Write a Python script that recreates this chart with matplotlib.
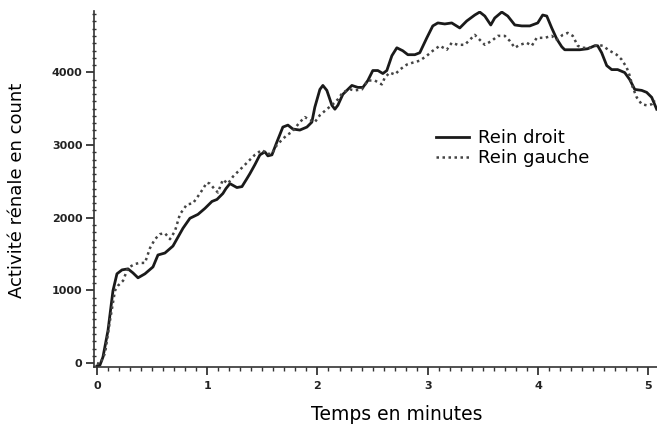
import matplotlib
matplotlib.use("Agg")
import matplotlib.pyplot as plt
from matplotlib.ticker import MultipleLocator

# Rein droit (solid)
t_droit = [0.0, 0.027, 0.054, 0.100, 0.145, 0.181, 0.227, 0.281, 0.326, 0.372,
           0.435, 0.508, 0.553, 0.616, 0.689, 0.780, 0.843, 0.916, 0.979, 1.043,
           1.088, 1.142, 1.170, 1.206, 1.269, 1.315, 1.360, 1.387, 1.432, 1.478,
           1.523, 1.550, 1.587, 1.632, 1.686, 1.732, 1.777, 1.840, 1.904, 1.949,
           1.976, 2.022, 2.049, 2.085, 2.131, 2.158, 2.185, 2.230, 2.312, 2.366,
           2.412, 2.457, 2.502, 2.548, 2.593, 2.629, 2.675, 2.720, 2.774, 2.820,
           2.883, 2.928, 2.992, 3.046, 3.092, 3.155, 3.218, 3.291, 3.354, 3.427,
           3.472, 3.518, 3.572, 3.608, 3.672, 3.726, 3.790, 3.853, 3.926, 3.998,
           4.043, 4.080, 4.125, 4.170, 4.216, 4.243, 4.316, 4.379, 4.451, 4.515,
           4.542, 4.578, 4.624, 4.669, 4.723, 4.787, 4.832, 4.878, 4.941, 4.986,
           5.032, 5.077]
droit = [-40, -27, 82, 450, 996, 1228, 1282, 1296, 1241, 1173,
         1228, 1323, 1487, 1514, 1610, 1855, 1992, 2046, 2128, 2224,
         2251, 2333, 2401, 2469, 2415, 2428, 2538, 2606, 2729, 2865,
         2906, 2851, 2865, 3042, 3247, 3274, 3220, 3206, 3247, 3315,
         3520, 3765, 3820, 3752, 3547, 3493, 3547, 3697, 3820, 3793,
         3793, 3888, 4025, 4025, 3984, 4025, 4229, 4338, 4297, 4243,
         4243, 4270, 4475, 4639, 4680, 4666, 4680, 4611, 4707, 4789,
         4830, 4775, 4652, 4748, 4830, 4775, 4652, 4639, 4639, 4680,
         4789, 4775, 4611, 4461, 4352, 4311, 4311, 4311, 4325, 4366,
         4366, 4270, 4093, 4038, 4038, 3997, 3902, 3765, 3752, 3725,
         3656, 3493]

# Rein gauche (dotted)
t_gauche = [0.0, 0.027, 0.073, 0.118, 0.163, 0.190, 0.236, 0.281, 0.345, 0.390,
            0.435, 0.481, 0.526, 0.571, 0.616, 0.662, 0.707, 0.752, 0.816, 0.870,
            0.934, 0.997, 1.024, 1.070, 1.097, 1.142, 1.188, 1.233, 1.278, 1.324,
            1.387, 1.432, 1.496, 1.541, 1.587, 1.632, 1.677, 1.723, 1.768, 1.840,
            1.886, 1.931, 1.976, 2.022, 2.085, 2.140, 2.185, 2.230, 2.294, 2.339,
            2.403, 2.457, 2.520, 2.584, 2.611, 2.656, 2.702, 2.747, 2.811, 2.865,
            2.928, 2.992, 3.046, 3.110, 3.173, 3.218, 3.273, 3.336, 3.382, 3.427,
            3.472, 3.518, 3.581, 3.636, 3.699, 3.744, 3.790, 3.835, 3.898, 3.944,
            3.989, 4.062, 4.125, 4.170, 4.225, 4.270, 4.316, 4.361, 4.406, 4.470,
            4.542, 4.587, 4.651, 4.714, 4.760, 4.805, 4.832, 4.860, 4.896, 4.941,
            4.986, 5.032, 5.059]
gauche = [0, -14, 136, 587, 996, 1064, 1132, 1310, 1364, 1378,
          1378, 1583, 1705, 1774, 1787, 1705, 1815, 2046, 2183, 2197,
          2333, 2483, 2469, 2388, 2347, 2524, 2469, 2565, 2633, 2701,
          2797, 2865, 2933, 2879, 2879, 3001, 3070, 3138, 3179, 3315,
          3384, 3343, 3315, 3411, 3493, 3561, 3629, 3725, 3765, 3752,
          3765, 3888, 3888, 3834, 3929, 3997, 3970, 4038, 4107, 4134,
          4161, 4229, 4297, 4366, 4311, 4407, 4379, 4379, 4448, 4516,
          4448, 4379, 4434, 4502, 4502, 4434, 4338, 4379, 4407, 4366,
          4475, 4475, 4502, 4448, 4516, 4543, 4502, 4366, 4338, 4338,
          4379, 4366, 4297, 4243, 4175, 4066, 3956, 3793, 3656, 3561,
          3547, 3561, 3616]

fig = plt.figure(figsize=(6.57, 4.32), dpi=100)
ax = fig.add_axes([0.1426, 0.1495, 0.8574, 0.826])

ax.plot(t_droit, droit, color="#1a1a1a", lw=2.0, label="Rein droit")
ax.plot(t_gauche, gauche, color="#444444", lw=1.8, ls=(0, (1, 1.4)),
        label="Rein gauche")

ax.set_xlim(-0.03, 5.08)
ax.set_ylim(-60, 4850)

for s in ["top", "right"]:
    ax.spines[s].set_visible(False)
for s in ["left", "bottom"]:
    ax.spines[s].set_linewidth(1.2)
    ax.spines[s].set_color("#333333")

ax.xaxis.set_major_locator(MultipleLocator(1))
ax.xaxis.set_minor_locator(MultipleLocator(0.1))
ax.yaxis.set_major_locator(MultipleLocator(1000))
ax.yaxis.set_minor_locator(MultipleLocator(100))
ax.tick_params(axis="x", which="major", length=6, width=1.2, direction="out",
               pad=4, labelsize=8, colors="#222222")
ax.tick_params(axis="x", which="minor", length=3, width=1.0, direction="out",
               colors="#333333")
ax.tick_params(axis="y", which="major", length=6, width=1.2, direction="out",
               pad=2, labelsize=8, colors="#222222")
ax.tick_params(axis="y", which="minor", length=3, width=1.0, direction="inout",
               colors="#333333")
for lab in ax.get_xticklabels() + ax.get_yticklabels():
    lab.set_fontweight("bold")

ax.set_xlabel("Temps en minutes", fontsize=13.5)
ax.xaxis.set_label_coords(0.538, -0.105)
ax.set_ylabel("Activité rénale en count", fontsize=13)
ax.yaxis.set_label_coords(-0.12, 0.497)

ax.legend(loc="upper left", bbox_to_anchor=(0.608, 0.668), frameon=False,
          fontsize=13, handlelength=1.8, handletextpad=0.5,
          labelspacing=0.1, borderpad=0, borderaxespad=0)

fig.savefig("out.png", dpi=100)
